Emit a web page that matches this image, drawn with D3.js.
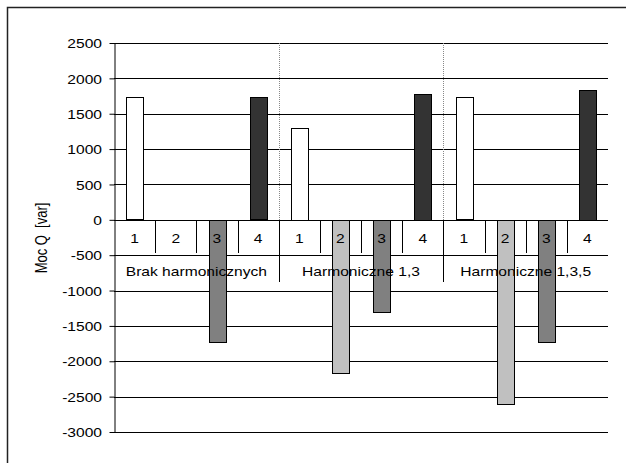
<!DOCTYPE html>
<html><head><meta charset="utf-8">
<script src="https://cdn.jsdelivr.net/npm/d3@7"></script>
<style>
body{margin:0;background:#fff;}
svg{display:block;font-family:"Liberation Sans",Arial,sans-serif;}
</style></head>
<body><svg id="c" width="626" height="463"></svg>
<script>
const groups = ["Brak harmonicznych", "Harmoniczne 1,3", "Harmoniczne 1,3,5"];
const slotLabels = ["1", "2", "3", "4"];
const series1 = [1730, 1300, 1730];
const series2 = [0, -2160, -2600];
const series3 = [-1730, -1300, -1730];
const series4 = [1730, 1780, 1840];
const yTicks = [-3000, -2500, -2000, -1500, -1000, -500, 0, 500, 1000, 1500, 2000, 2500];
const yTitle = "Moc Q  [var]";

const seriesList = [series1, series2, series3, series4];
const colors = ["#ffffff", "#c0c0c0", "#808080", "#333333"];
const SX = 1.2, FS = 13;

const svg = d3.select("#c");
const x0 = 114, x1 = 608, yTop = 43, yBot = 432;

const y = d3.scaleLinear().domain([-3000, 2500]).range([yBot, yTop]);
const gx = d3.scaleBand().domain(groups).range([x0, x1]).padding(0);
const sx = d3.scaleBand().domain(slotLabels).range([0, gx.bandwidth()]).padding(0);

// frame
svg.append("rect").attr("x", 7.5).attr("y", 7.5).attr("width", 700).attr("height", 600)
  .attr("fill", "none").attr("stroke", "#222").attr("stroke-width", 1.5);

// gridlines
svg.append("g").selectAll("line").data(yTicks).join("line")
  .attr("x1", x0).attr("x2", x1)
  .attr("y1", d => Math.round(y(d)) + 0.5).attr("y2", d => Math.round(y(d)) + 0.5)
  .attr("stroke", "#000").attr("stroke-width", 1);

// dotted group separators above zero
svg.append("g").selectAll("line").data(groups.slice(1)).join("line")
  .attr("x1", d => Math.round(gx(d)) + 0.5).attr("x2", d => Math.round(gx(d)) + 0.5)
  .attr("y1", yTop).attr("y2", Math.round(y(0)))
  .attr("stroke", "#888").attr("stroke-dasharray", "1,1");

// category tick lines
const catG = svg.append("g");
groups.forEach(g => {
  slotLabels.slice(1).forEach(s => {
    const xx = Math.round(gx(g) + sx(s)) + 0.5;
    catG.append("line").attr("x1", xx).attr("x2", xx)
      .attr("y1", Math.round(y(0))).attr("y2", 253).attr("stroke", "#000");
  });
});
groups.slice(1).forEach(g => {
  const xx = Math.round(gx(g)) + 0.5;
  catG.append("line").attr("x1", xx).attr("x2", xx)
    .attr("y1", Math.round(y(0))).attr("y2", 282).attr("stroke", "#000");
});

// bars
const barW = 16.5;
const barG = svg.append("g");
groups.forEach((g, gi) => {
  seriesList.forEach((ser, si) => {
    const v = ser[gi];
    if (v === 0) return;
    const cx = gx(g) + sx(slotLabels[si]) + sx.bandwidth() / 2;
    const ya = y(Math.max(0, v)), yb = y(Math.min(0, v));
    barG.append("rect")
      .attr("x", Math.round(cx - barW / 2) + 0.5).attr("width", Math.round(barW))
      .attr("y", Math.round(ya) + 0.5).attr("height", Math.round(yb - ya))
      .attr("fill", colors[si]).attr("stroke", "#000").attr("stroke-width", 1);
  });
});

// y axis
const yAxis = svg.append("g").attr("transform", `translate(${x0 + 0.5},0)`)
  .call(d3.axisLeft(y).tickValues(yTicks).tickFormat(d => String(d)).tickSize(5).tickSizeOuter(0));
yAxis.select(".domain").attr("stroke", "#000");
yAxis.selectAll(".tick line").attr("stroke", "#000");
yAxis.selectAll(".tick text")
  .attr("x", null).attr("dy", null)
  .attr("transform", `translate(-12.5,4.7) scale(${SX},1)`)
  .attr("font-size", FS).attr("font-family", "Liberation Sans, Arial, sans-serif").attr("fill", "#000");

// slot labels
const txtG = svg.append("g").attr("font-size", FS).attr("fill", "#000");
groups.forEach(g => {
  slotLabels.forEach(s => {
    const cx = gx(g) + sx(s) + sx.bandwidth() / 2;
    txtG.append("text").attr("text-anchor", "middle")
      .attr("transform", `translate(${cx},242.5) scale(${SX},1)`).text(s);
  });
  txtG.append("text").attr("text-anchor", "middle")
    .attr("transform", `translate(${gx(g) + gx.bandwidth() / 2},276) scale(${SX},1)`).text(g);
});

// y title
svg.append("text").attr("font-size", FS).attr("text-anchor", "middle").attr("fill", "#000")
  .style("white-space", "pre").attr("xml:space", "preserve")
  .attr("transform", `translate(46.5,238) scale(${SX},1) rotate(-90)`).text(yTitle);
</script></body></html>
